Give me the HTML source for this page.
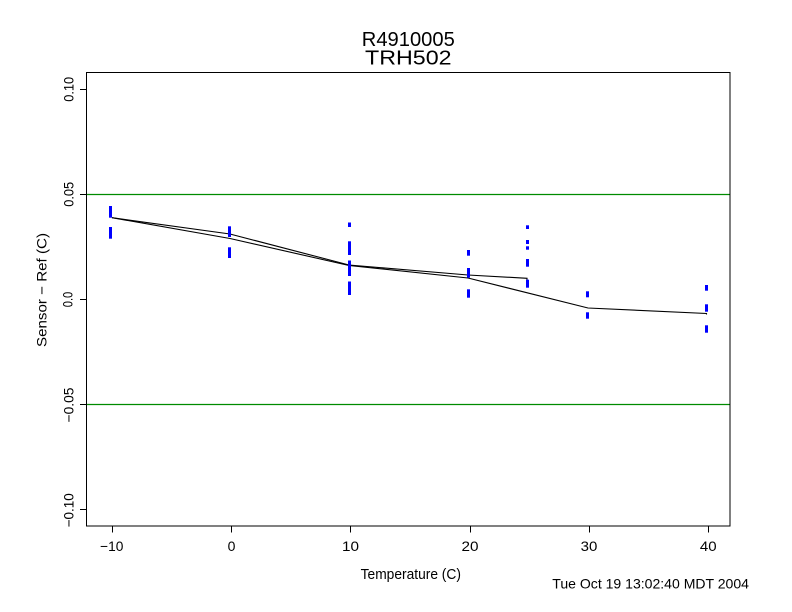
<!DOCTYPE html>
<html>
<head>
<meta charset="utf-8">
<style>
  html, body { margin: 0; padding: 0; background: #fff; }
  svg { display: block; }
  text { font-family: "Liberation Sans", Arial, sans-serif; fill: #000; }
</style>
</head>
<body>
<svg width="792" height="612" viewBox="0 0 792 612" xmlns="http://www.w3.org/2000/svg">
  <rect x="0" y="0" width="792" height="612" fill="#fff"/>

  <!-- Title -->
  <text x="408.3" y="46" font-size="20" text-anchor="middle" textLength="93" lengthAdjust="spacingAndGlyphs">R4910005</text>
  <text x="408.3" y="64.3" font-size="20" text-anchor="middle" textLength="86.5" lengthAdjust="spacingAndGlyphs">TRH502</text>

  <!-- Reference lines (green) -->
  <line x1="86" y1="194.5" x2="730" y2="194.5" stroke="#008b00" stroke-width="1.2"/>
  <line x1="86" y1="404.5" x2="730" y2="404.5" stroke="#008b00" stroke-width="1.2"/>

  <!-- Data lines -->
  <polyline fill="none" stroke="#000" stroke-width="1.1"
    points="112,217.7 230,234 349,265 468,275 527,278.3 527,281"/>
  <polyline fill="none" stroke="#000" stroke-width="1.1"
    points="112,217.7 230,238.5 349,265.5 468,278 588,308 706.5,313.5 706.5,314.5"/>

  <!-- Points (blue bars) -->
  <g fill="#0000ff">
    <!-- -10 -->
    <rect x="109" y="206" width="3" height="11.7"/>
    <rect x="109" y="227" width="3" height="11.7"/>
    <!-- 0 -->
    <rect x="228" y="226.3" width="3" height="10.7"/>
    <rect x="228" y="247.3" width="3" height="10.7"/>
    <!-- 10 -->
    <rect x="348" y="222.5" width="3" height="4.5"/>
    <rect x="348" y="241.3" width="3" height="13.7"/>
    <rect x="348" y="260.5" width="3" height="15.5"/>
    <rect x="348" y="281.5" width="3" height="13.5"/>
    <!-- 20 -->
    <rect x="467" y="250" width="3" height="5.7"/>
    <rect x="467" y="268" width="3" height="9.7"/>
    <rect x="467" y="289.3" width="3" height="8.4"/>
    <!-- 25 -->
    <rect x="526" y="225.3" width="3" height="3.7"/>
    <rect x="526" y="240" width="3" height="4"/>
    <rect x="526" y="246.3" width="3" height="3.4"/>
    <rect x="526" y="259" width="3" height="7.7"/>
    <rect x="526" y="279.7" width="3" height="8"/>
    <!-- 30 -->
    <rect x="586" y="291.3" width="3" height="6"/>
    <rect x="586" y="312.3" width="3" height="6.4"/>
    <!-- 40 -->
    <rect x="705" y="285" width="3" height="5.7"/>
    <rect x="705" y="304.3" width="3" height="7.4"/>
    <rect x="705" y="325.3" width="3" height="7.4"/>
  </g>

  <!-- Plot box -->
  <rect x="86.5" y="72.5" width="643.5" height="453.5" fill="none" stroke="#000" stroke-width="1"/>

  <!-- X ticks -->
  <g stroke="#000" stroke-width="1">
    <line x1="112.5" y1="526" x2="112.5" y2="532.5"/>
    <line x1="231.5" y1="526" x2="231.5" y2="532.5"/>
    <line x1="350.5" y1="526" x2="350.5" y2="532.5"/>
    <line x1="470.5" y1="526" x2="470.5" y2="532.5"/>
    <line x1="589.5" y1="526" x2="589.5" y2="532.5"/>
    <line x1="708.5" y1="526" x2="708.5" y2="532.5"/>
  </g>
  <g font-size="14" text-anchor="middle">
    <text x="111.7" y="551" textLength="23.3" lengthAdjust="spacingAndGlyphs">−10</text>
    <text x="231.5" y="551">0</text>
    <text x="350.5" y="551" textLength="17" lengthAdjust="spacingAndGlyphs">10</text>
    <text x="470" y="551" textLength="17" lengthAdjust="spacingAndGlyphs">20</text>
    <text x="589" y="551" textLength="16.7" lengthAdjust="spacingAndGlyphs">30</text>
    <text x="708.3" y="551" textLength="16.7" lengthAdjust="spacingAndGlyphs">40</text>
  </g>

  <!-- Y ticks -->
  <g stroke="#000" stroke-width="1">
    <line x1="80" y1="89.5" x2="86.5" y2="89.5"/>
    <line x1="80" y1="194.5" x2="86.5" y2="194.5"/>
    <line x1="80" y1="299.5" x2="86.5" y2="299.5"/>
    <line x1="80" y1="404.5" x2="86.5" y2="404.5"/>
    <line x1="80" y1="509.5" x2="86.5" y2="509.5"/>
  </g>
  <g font-size="14" text-anchor="middle">
    <text transform="translate(73.3,89.3) rotate(-90)" textLength="25" lengthAdjust="spacingAndGlyphs">0.10</text>
    <text transform="translate(73.3,194.3) rotate(-90)" textLength="25" lengthAdjust="spacingAndGlyphs">0.05</text>
    <text transform="translate(72.5,299.5) rotate(-90)" textLength="15.6" lengthAdjust="spacingAndGlyphs">0.0</text>
    <text transform="translate(73.3,405) rotate(-90)" textLength="35" lengthAdjust="spacingAndGlyphs">−0.05</text>
    <text transform="translate(73.3,510.3) rotate(-90)" textLength="34" lengthAdjust="spacingAndGlyphs">−0.10</text>
  </g>

  <!-- Axis labels -->
  <text x="410.8" y="579" font-size="15" text-anchor="middle" textLength="100.3" lengthAdjust="spacingAndGlyphs">Temperature (C)</text>
  <text transform="translate(46.7,290) rotate(-90)" font-size="14" text-anchor="middle" textLength="114" lengthAdjust="spacingAndGlyphs">Sensor − Ref (C)</text>

  <!-- Footer timestamp -->
  <text x="552.3" y="588.3" font-size="14" textLength="196.7" lengthAdjust="spacingAndGlyphs">Tue Oct 19 13:02:40 MDT 2004</text>
</svg>
</body>
</html>
